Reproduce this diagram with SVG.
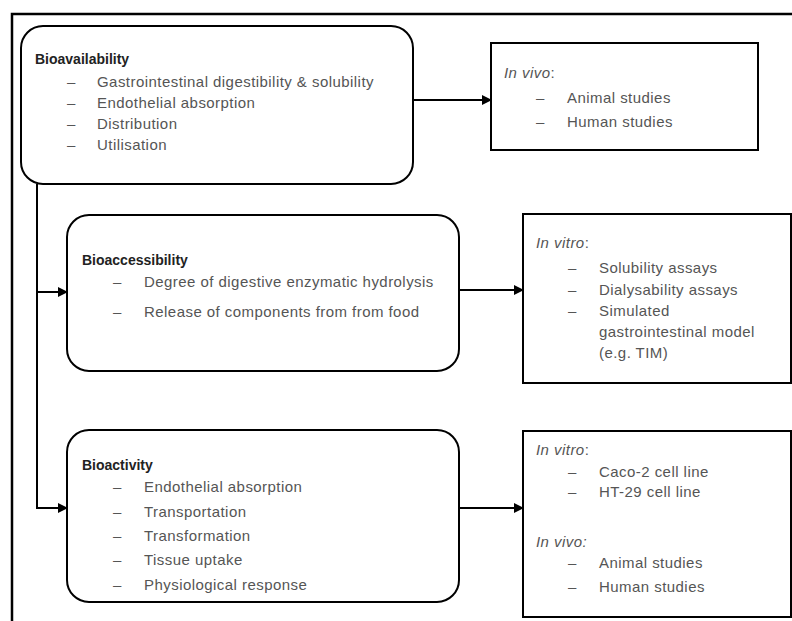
<svg xmlns="http://www.w3.org/2000/svg" width="792" height="621" viewBox="0 0 792 621">
<style>
.bg{fill:#ffffff}
.frame{fill:none;stroke:#000;stroke-width:2.5}
.rbox{fill:#fff;stroke:#000;stroke-width:2}
.sbox{fill:#fff;stroke:#000;stroke-width:2}
.conn{fill:none;stroke:#000;stroke-width:2}
text{font-family:"Liberation Sans",Arial,sans-serif;font-size:15px;letter-spacing:0.45px;fill:#555}
.title{font-weight:bold;font-size:14px;letter-spacing:0;fill:#222}
.it{font-style:italic}
</style>
<defs>
<marker id="arr" markerWidth="10" markerHeight="10" refX="9" refY="5" orient="auto" markerUnits="userSpaceOnUse">
<path d="M0,0 L10,5 L0,10 z" fill="#000"/>
</marker>
</defs>
<rect class="bg" x="0" y="0" width="792" height="621"/>
<path class="frame" d="M12,621 V14 H792"/>
<g id="connectors">
<line class="conn" x1="413" y1="100" x2="491" y2="100" marker-end="url(#arr)"/>
<path class="conn" d="M37,184 V508 H67" marker-end="url(#arr)"/>
<line class="conn" x1="37" y1="292" x2="67" y2="292" marker-end="url(#arr)"/>
<line class="conn" x1="459" y1="290" x2="523" y2="290" marker-end="url(#arr)"/>
<line class="conn" x1="459" y1="508" x2="523" y2="508" marker-end="url(#arr)"/>
</g>
<g id="bioavailability">
<rect class="rbox" x="21" y="26" width="392" height="158" rx="22" ry="22"/>
<text class="title" x="35" y="64">Bioavailability</text>
<text x="67" y="87">–</text><text x="97" y="87">Gastrointestinal digestibility &amp; solubility</text>
<text x="67" y="108">–</text><text x="97" y="108">Endothelial absorption</text>
<text x="67" y="129">–</text><text x="97" y="129">Distribution</text>
<text x="67" y="150">–</text><text x="97" y="150">Utilisation</text>
</g>
<g id="invivo1">
<rect class="sbox" x="491" y="43" width="267" height="107"/>
<text x="504" y="78"><tspan class="it">In vivo</tspan>:</text>
<text x="536" y="103">–</text><text x="567" y="103">Animal studies</text>
<text x="536" y="127">–</text><text x="567" y="127">Human studies</text>
</g>
<g id="bioaccessibility">
<rect class="rbox" x="67" y="215" width="392" height="156" rx="22" ry="22"/>
<text class="title" x="82" y="265">Bioaccessibility</text>
<text x="113" y="287">–</text><text x="144" y="287">Degree of digestive enzymatic hydrolysis</text>
<text x="113" y="317">–</text><text x="144" y="317">Release of components from from food</text>
</g>
<g id="invitro2">
<rect class="sbox" x="523" y="214" width="268" height="169"/>
<text x="536" y="248"><tspan class="it">In vitro</tspan>:</text>
<text x="568" y="273">–</text><text x="599" y="273">Solubility assays</text>
<text x="568" y="295">–</text><text x="599" y="295">Dialysability assays</text>
<text x="568" y="316">–</text><text x="599" y="316">Simulated</text>
<text x="599" y="337">gastrointestinal model</text>
<text x="599" y="358">(e.g. TIM)</text>
</g>
<g id="bioactivity">
<rect class="rbox" x="67" y="430" width="392" height="172" rx="22" ry="22"/>
<text class="title" x="82" y="470">Bioactivity</text>
<text x="113" y="492">–</text><text x="144" y="492">Endothelial absorption</text>
<text x="113" y="517">–</text><text x="144" y="517">Transportation</text>
<text x="113" y="541">–</text><text x="144" y="541">Transformation</text>
<text x="113" y="565">–</text><text x="144" y="565">Tissue uptake</text>
<text x="113" y="590">–</text><text x="144" y="590">Physiological response</text>
</g>
<g id="invitro3">
<rect class="sbox" x="523" y="431" width="268" height="186"/>
<text x="536" y="455"><tspan class="it">In vitro</tspan>:</text>
<text x="568" y="477">–</text><text x="599" y="477">Caco-2 cell line</text>
<text x="568" y="497">–</text><text x="599" y="497">HT-29 cell line</text>
<text x="536" y="547" class="it">In vivo:</text>
<text x="568" y="568">–</text><text x="599" y="568">Animal studies</text>
<text x="568" y="592">–</text><text x="599" y="592">Human studies</text>
</g>
</svg>
